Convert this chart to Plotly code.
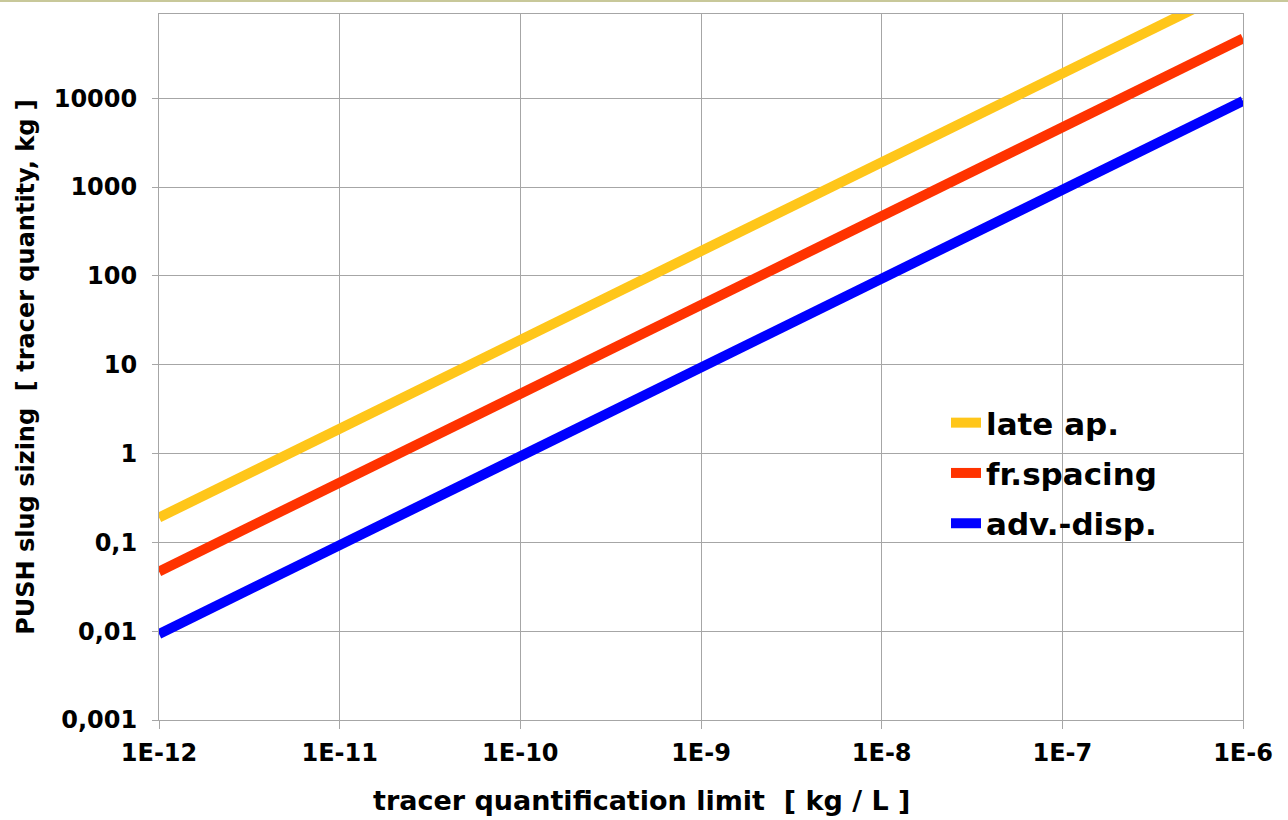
import plotly.graph_objects as go

# Data
x_vals = [1e-12, 1e-11, 1e-10, 1e-9, 1e-8, 1e-7, 1e-6]
late_ap = [0.19, 1.9, 19, 190, 1900, 19000, 190000]
fr_spacing = [0.047, 0.47, 4.7, 47, 470, 4700, 47000]
adv_disp = [0.0093, 0.093, 0.93, 9.3, 93, 930, 9300]

x_tickvals = [1e-12, 1e-11, 1e-10, 1e-9, 1e-8, 1e-7, 1e-6]
x_ticktext = ["1E-12", "1E-11", "1E-10", "1E-9", "1E-8", "1E-7", "1E-6"]
y_tickvals = [0.001, 0.01, 0.1, 1, 10, 100, 1000, 10000]
y_ticktext = ["0,001", "0,01", "0,1", "1", "10", "100", "1000", "10000"]

x_title = "tracer quantification limit  [ kg / L ]"
y_title = "PUSH slug sizing  [ tracer quantity, kg ]"

series = [
    ("late ap.", late_ap, "#FFC61A"),
    ("fr.spacing", fr_spacing, "#FF3300"),
    ("adv.-disp.", adv_disp, "#0000FF"),
]

FONT = "DejaVu Sans"

fig = go.Figure()
for i, (name, ys, col) in enumerate(series):
    fig.add_trace(go.Scatter(
        x=x_vals, y=ys, mode="lines", name=name,
        line=dict(color=col, width=10),
        legendgroup=f"g{i}",
    ))

W, H = 1288, 820
ml, mr, mt, mb = 159, 45, 14, 100
pw = W - ml - mr
ph = H - mt - mb

fig.update_layout(
    width=W, height=H,
    margin=dict(l=ml, r=mr, t=mt, b=mb),
    paper_bgcolor="white", plot_bgcolor="white",
    font=dict(family=FONT, color="black"),
    legend=dict(
        x=(946 - ml) / pw, y=(720 - 396) / ph, xanchor="left", yanchor="top",
        font=dict(family=FONT, size=31, color="black", weight="bold"),
        bgcolor="rgba(255,255,255,0)", tracegroupgap=7,
    ),
    shapes=[dict(type="line", xref="paper", yref="paper",
                 x0=-ml / pw, x1=(W - ml) / pw,
                 y0=(720 - 1) / ph, y1=(720 - 1) / ph,
                 line=dict(color="#C8C89A", width=2))],
    annotations=[dict(
        text=x_title, xref="paper", yref="paper",
        x=(641 - ml) / pw, y=(720 - 800) / ph, xanchor="center", yanchor="middle",
        showarrow=False,
        font=dict(family=FONT, size=27, color="black", weight="bold"),
    )],
)

fig.update_xaxes(
    type="log", range=[-12, -6],
    tickvals=x_tickvals, ticktext=x_ticktext,
    tickfont=dict(family=FONT, size=24, color="black", weight="bold"),
    ticklabelstandoff=3,
    showgrid=True, gridcolor="#A6A6A6", gridwidth=1,
    showline=True, linecolor="#A6A6A6", linewidth=1, mirror=True,
    ticks="outside", ticklen=8, tickcolor="#A6A6A6",
    zeroline=False,
)
fig.update_yaxes(
    type="log", range=[-3, 4.948],
    tickvals=y_tickvals, ticktext=y_ticktext,
    tickfont=dict(family=FONT, size=24, color="black", weight="bold"),
    ticklabelstandoff=10,
    showgrid=True, gridcolor="#A6A6A6", gridwidth=1,
    showline=True, linecolor="#A6A6A6", linewidth=1, mirror=True,
    ticks="outside", ticklen=6, tickcolor="#A6A6A6",
    zeroline=False,
    title=dict(text=y_title,
               font=dict(family=FONT, size=24, color="black", weight="bold"),
               standoff=12),
)

fig.write_html("out.html", config={"displayModeBar": False},
               post_script="document.body.style.margin='0px';")
